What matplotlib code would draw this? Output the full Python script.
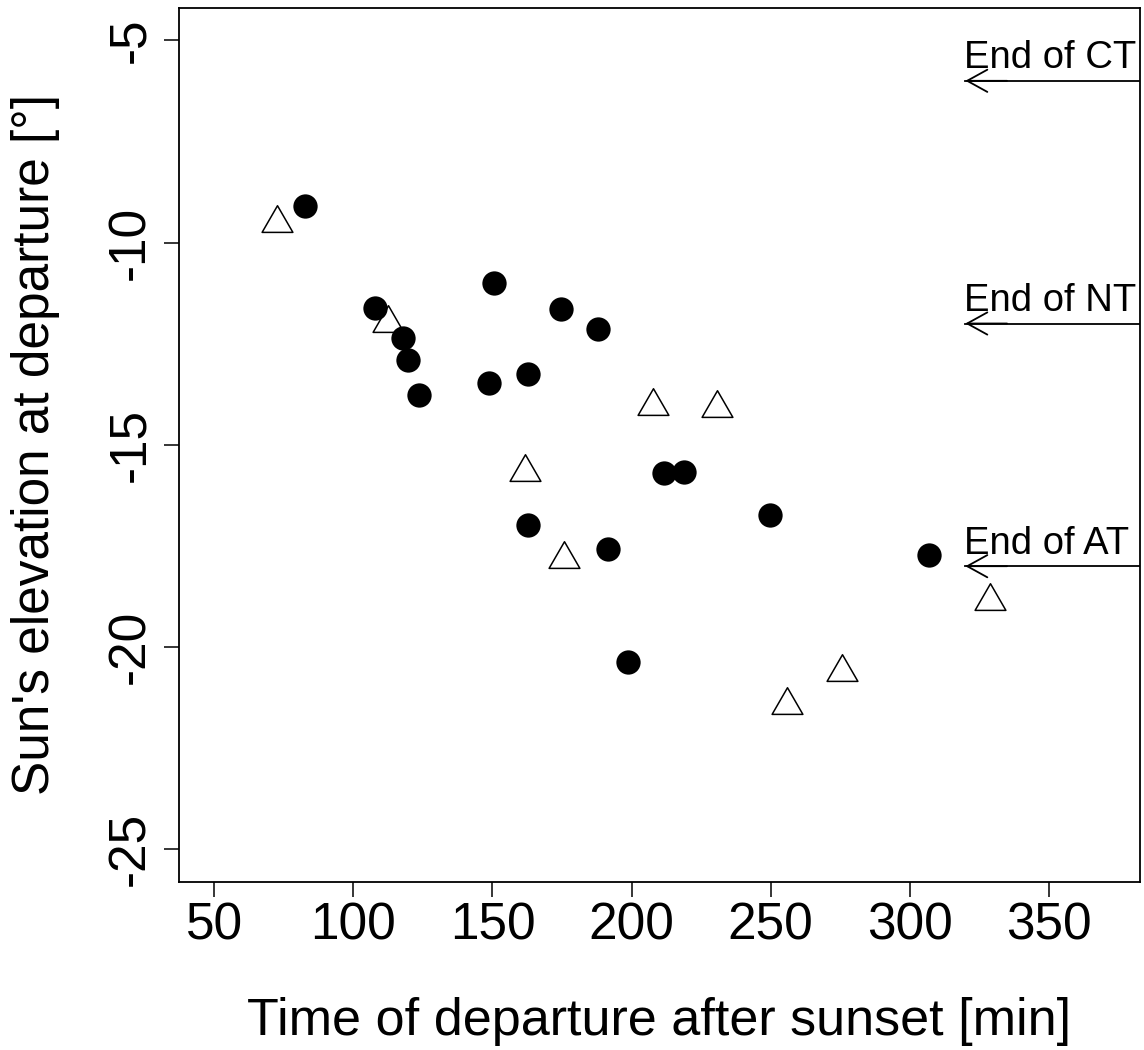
import matplotlib
matplotlib.use("Agg")
import matplotlib.pyplot as plt
from matplotlib.path import Path

plt.rcParams['font.family'] = ['Liberation Sans', 'DejaVu Sans']

# Data
circle_x = [82.7, 107.7, 117.7, 119.7, 123.7, 150.7, 174.7, 148.7, 162.7,
            187.8, 211.8, 219.0, 249.9, 162.7, 191.7, 306.9, 198.7]
circle_y = [-9.10, -11.62, -12.36, -12.91, -13.76, -11.01, -11.64, -13.47, -13.24,
            -12.14, -15.70, -15.66, -16.73, -16.97, -17.57, -17.73, -20.38]
tri_x = [72.7, 112.6, 207.7, 230.6, 161.6, 175.7, 328.9, 275.7, 255.8]
tri_y = [-9.52, -11.98, -14.05, -14.10, -15.67, -17.81, -18.85, -20.62, -21.44]

twilight_levels = [-6, -12, -18]
twilight_labels = ["End of CT", "End of NT", "End of AT"]
arrow_x = 320
arrow_end = 420

xticks = [50, 100, 150, 200, 250, 300, 350]
yticks = [-5, -10, -15, -20, -25]

fig = plt.figure(figsize=(11.44, 10.5), dpi=100)
W, H = 1144, 1050
left, right, top, bottom = 178.7, 1140, 8, 881.7
ax = fig.add_axes([left / W, (H - bottom) / H, (right - left) / W, (bottom - top) / H])

# R-style triangle (pch=2) centred on circumcentre
tri_path = Path([(0, 1), (-0.866, -0.5), (0.866, -0.5), (0, 1)],
                [Path.MOVETO, Path.LINETO, Path.LINETO, Path.CLOSEPOLY])

ax.plot(tri_x, tri_y, linestyle='none', marker=tri_path, ms=25.6,
        mfc='white', mec='black', mew=1.1, zorder=3)
ax.plot(circle_x, circle_y, linestyle='none', marker='o', ms=17.5,
        mfc='black', mec='black', mew=0, zorder=4)

for lvl, lab in zip(twilight_levels, twilight_labels):
    ax.plot([arrow_x, arrow_end], [lvl, lvl], color='black', lw=1.3, clip_on=True)
    ax.annotate('', xy=(arrow_x, lvl), xytext=(arrow_x + 15, lvl),
                arrowprops=dict(arrowstyle='->,head_length=14.5,head_width=8',
                                mutation_scale=1, lw=1.3, color='black',
                                shrinkA=0, shrinkB=0))
    ax.annotate(lab, xy=(arrow_x, lvl), xytext=(-1, 9), textcoords='offset points',
                ha='left', va='baseline', fontsize=27.5)

ax.set_xlim(37.2, 382.8)
ax.set_ylim(-25.8, -4.2)
ax.set_xticks(xticks)
ax.set_yticks(yticks)
ax.set_xticklabels([str(v) for v in xticks])
ax.set_yticklabels([str(v) for v in yticks], rotation=90, va='center')
ax.tick_params(axis='both', direction='out', length=11, width=1.1, labelsize=37)
ax.tick_params(axis='x', pad=3)
ax.tick_params(axis='y', pad=6)
for s in ax.spines.values():
    s.set_linewidth(1.3)

ax.set_xlabel("Time of departure after sunset [min]", fontsize=37.5, labelpad=34)
ax.set_ylabel("Sun's elevation at departure [°]", fontsize=37, labelpad=33)

fig.savefig("out.png", dpi=100)
